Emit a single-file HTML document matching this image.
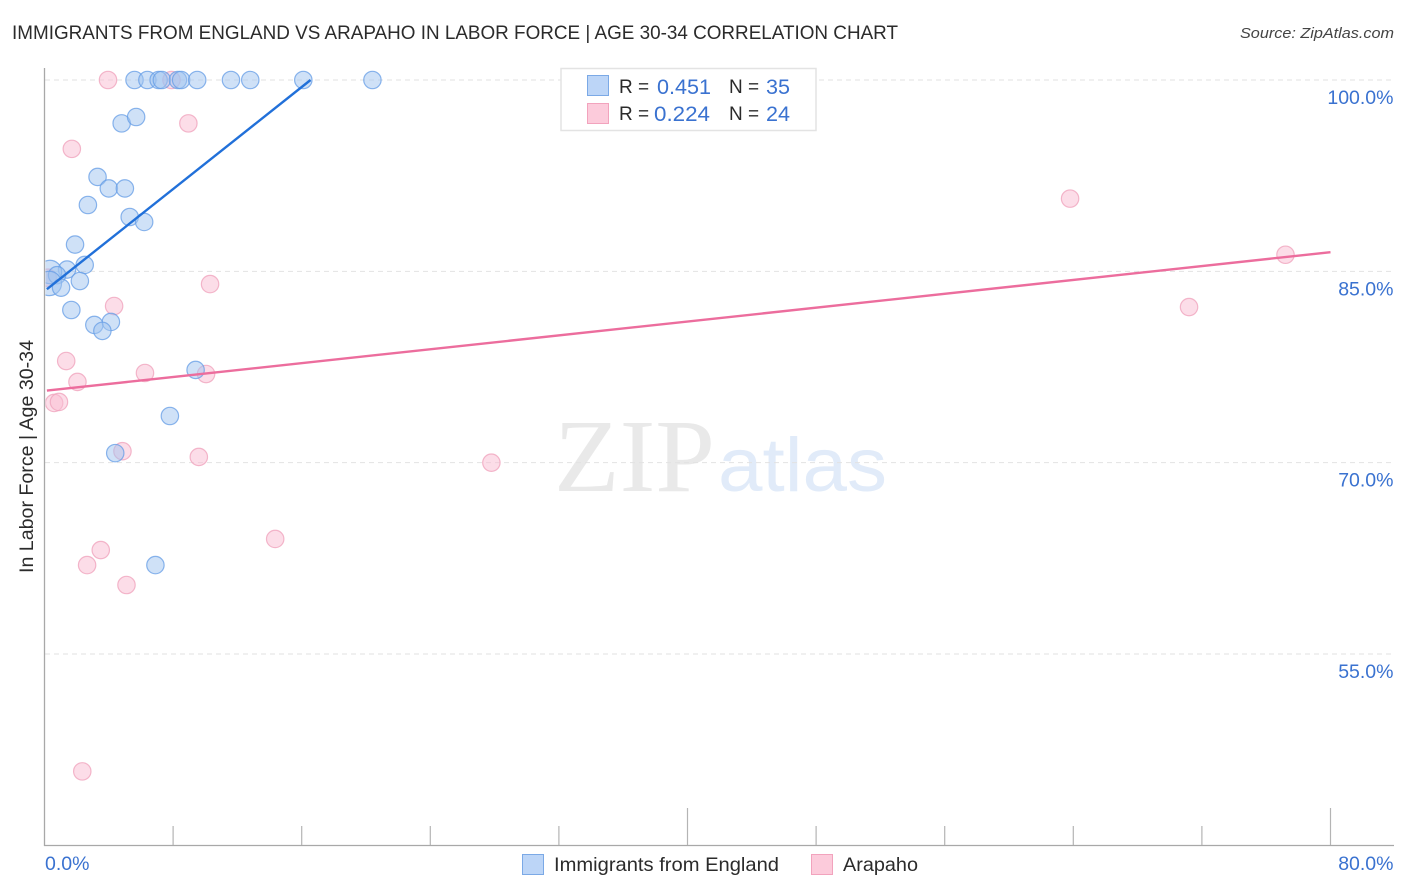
<!DOCTYPE html>
<html lang="en">
<head>
<meta charset="utf-8">
<title>Immigrants from England vs Arapaho in Labor Force | Age 30-34 Correlation Chart</title>
<style>
html,body{margin:0;padding:0;background:#fff;}
svg{display:block;font-family:"Liberation Sans",sans-serif;}
</style>
</head>
<body>
<svg id="chart" width="1406" height="892" viewBox="0 0 1406 892" xmlns="http://www.w3.org/2000/svg">
  <defs>
    <clipPath id="plot-clip"><rect x="45.500" y="60" width="1350" height="785"/></clipPath>
  </defs>
  <text x="12" y="39" font-size="19" fill="#2b2b2b" textLength="886" lengthAdjust="spacingAndGlyphs">IMMIGRANTS FROM ENGLAND VS ARAPAHO IN LABOR FORCE | AGE 30-34 CORRELATION CHART</text>
  <text x="1394" y="38" font-size="15" font-style="italic" fill="#444" text-anchor="end" textLength="154" lengthAdjust="spacingAndGlyphs">Source: ZipAtlas.com</text>

  <g>
    <text x="554" y="491" font-family="'Liberation Serif',serif" font-size="104" fill="#e9e9e9" textLength="161" lengthAdjust="spacingAndGlyphs">ZIP</text>
    <text x="718" y="491" font-size="76" fill="#e1ebf9" textLength="169" lengthAdjust="spacingAndGlyphs">atlas</text>
  </g>

  <g id="grid"></g>
  <g id="axes"></g>
  <g id="ylabels"></g>
  <g id="xlabels"></g>
  <text transform="translate(33,573) rotate(-90)" font-size="19" fill="#2b2b2b" textLength="233" lengthAdjust="spacingAndGlyphs">In Labor Force | Age 30-34</text>

  <g id="marks-arapaho" clip-path="url(#plot-clip)"></g>
  <g id="marks-england" clip-path="url(#plot-clip)"></g>
  <g id="trends"></g>

  <g>
    <rect x="561" y="68.500" width="255" height="62" fill="#fff" stroke="#e3e3e3" stroke-width="1.500"/>
    <rect x="587.500" y="75.500" width="21" height="20" fill="#bcd5f7" stroke="#7ba9e6" stroke-width="1"/>
    <rect x="587.500" y="103.500" width="21" height="20" fill="#fccbdb" stroke="#f2a3bd" stroke-width="1"/>
    <text x="619" y="93" font-size="19" fill="#2b2b2b">R =</text>
    <text x="657" y="94" font-size="21" fill="#3a72d0" textLength="54" lengthAdjust="spacingAndGlyphs">0.451</text>
    <text x="729" y="93" font-size="19" fill="#2b2b2b">N =</text>
    <text x="766" y="94" font-size="21" fill="#3a72d0" textLength="24" lengthAdjust="spacingAndGlyphs">35</text>
    <text x="619" y="120" font-size="19" fill="#2b2b2b">R =</text>
    <text x="654" y="121" font-size="21" fill="#3a72d0" textLength="56" lengthAdjust="spacingAndGlyphs">0.224</text>
    <text x="729" y="120" font-size="19" fill="#2b2b2b">N =</text>
    <text x="766" y="121" font-size="21" fill="#3a72d0" textLength="24" lengthAdjust="spacingAndGlyphs">24</text>
  </g>

  <g>
    <rect x="522.500" y="854.500" width="21" height="20" fill="#bcd5f7" stroke="#7ba9e6" stroke-width="1"/>
    <text x="554" y="871" font-size="19.500" fill="#2b2b2b" textLength="225" lengthAdjust="spacingAndGlyphs">Immigrants from England</text>
    <rect x="811.500" y="854.500" width="21" height="20" fill="#fccbdb" stroke="#f2a3bd" stroke-width="1"/>
    <text x="843" y="871" font-size="19.500" fill="#2b2b2b" textLength="75" lengthAdjust="spacingAndGlyphs">Arapaho</text>
  </g>
</svg>

<script>
// ---- chart data ----
const yTicks = [100, 85, 70, 55];
const yTickLabels = ['100.0%', '85.0%', '70.0%', '55.0%'];
const xTicks = [0, 8, 16, 24, 32, 40, 48, 56, 64, 72, 80];
const xMajorTicks = [40, 80];
const xEndLabels = ['0.0%', '80.0%'];
const xEndValues = [0, 80];

const englandX = [5.6, 6.4, 7.1, 7.3, 8.3, 8.5, 9.5, 11.6, 12.8, 16.1, 20.4,
  4.8, 5.7, 3.3, 4.0, 5.0, 2.7, 5.3, 6.2, 1.9,
  2.5, 1.4, 0.34, 0.78, 0.3, 2.2, 1.03, 1.67, 3.1, 4.13, 3.6, 9.4, 7.8, 4.4, 6.9];
const englandY = [100, 100, 100, 100, 100, 100, 100, 100, 100, 100, 100,
  96.6, 97.1, 92.4, 91.5, 91.5, 90.2, 89.26, 88.87, 87.1,
  85.5, 85.14, 84.95, 84.7, 84.05, 84.24, 83.72, 81.97, 80.8, 81.03, 80.33, 77.27, 73.66, 70.75, 61.97];
const englandWeight = [1, 1, 1, 1, 1, 1, 1, 1, 1, 1, 1,
  1, 1, 1, 1, 1, 1, 1, 1, 1,
  1, 1, 1.35, 1, 1.4, 1, 1, 1, 1, 1, 1, 1, 1, 1, 1];

const arapahoX = [3.95, 7.9, 8.95, 1.7, 63.8, 77.2, 71.2, 4.33, 10.3, 1.35, 2.05, 6.25, 10.05, 0.6, 0.9, 4.85, 9.6, 27.8, 14.35, 3.5, 2.65, 5.1, 2.35, 0.2];
const arapahoY = [100, 100, 96.6, 94.6, 90.7, 86.3, 82.2, 82.28, 84.0, 77.97, 76.33, 77.03, 76.95, 74.68, 74.76, 70.9, 70.45, 70.0, 64.02, 63.15, 61.97, 60.41, 45.8, 84.5];

const englandTrendX = [0.15, 16.55];
const englandTrendY = [83.6, 100];
const arapahoTrendX = [0.15, 80];
const arapahoTrendY = [75.65, 86.5];

// ---- axis functions ----
const xScale = function (v) { return 44.5 + v * 16.075; };
const yScale = function (v) { return 80 + (100 - v) * 12.756; };

const NS = 'http://www.w3.org/2000/svg';
function make(tag, attrs, parent) {
  const el = document.createElementNS(NS, tag);
  for (const k in attrs) el.setAttribute(k, attrs[k]);
  parent.appendChild(el);
  return el;
}

const grid = document.getElementById('grid');
const axes = document.getElementById('axes');
const ylabels = document.getElementById('ylabels');
const xlabels = document.getElementById('xlabels');

yTicks.forEach(function (t, i) {
  const line = make('line', {x1: 45, x2: 1394, y1: yScale(t), y2: yScale(t), stroke: '#e2e2e2', 'stroke-width': 1, 'stroke-dasharray': '5 4'}, grid);
  
  
  const label = make('text', {x: 1393.5, y: yScale(t) + 24, 'font-size': 19.5, fill: '#3a72d0', 'text-anchor': 'end'}, ylabels);
  label.textContent = yTickLabels[i];
  
  
});

const yAxis = make('line', {x1: 44.5, x2: 44.5, y1: 68, y2: 846, stroke: '#a8a8a8', 'stroke-width': 1.3}, axes);


const xAxis = make('line', {x1: 44, x2: 1394, y1: 845.5, y2: 845.5, stroke: '#a8a8a8', 'stroke-width': 1.3}, axes);



xTicks.forEach(function (t) {
  if (t === 0) return;
  const top = xMajorTicks.indexOf(t) >= 0 ? 808 : 826;
  const tick = make('line', {x1: xScale(t), x2: xScale(t), y1: top, y2: 845, stroke: '#b4b4b4', 'stroke-width': 1.2}, axes);
  
  
});

xEndLabels.forEach(function (txt, i) {
  const isLast = i === xEndLabels.length - 1;
  const label = make('text', {x: isLast ? 1393.5 : xScale(xEndValues[i]) + 0.5, y: 870, 'font-size': 19.5, fill: '#3a72d0', 'text-anchor': isLast ? 'end' : 'start'}, xlabels);
  label.textContent = txt;
  
  
});

const englandGroup = document.getElementById('marks-england');
englandX.forEach(function (x, i) {
  const c = make('circle', {cx: xScale(x), cy: yScale(englandY[i]), r: 8.7 * englandWeight[i], fill: 'rgba(160,196,240,0.5)', stroke: 'rgba(100,156,230,0.75)', 'stroke-width': 1.2}, englandGroup);
  
  
});

const arapahoGroup = document.getElementById('marks-arapaho');
arapahoX.forEach(function (x, i) {
  const c = make('circle', {cx: xScale(x), cy: yScale(arapahoY[i]), r: 8.7, fill: 'rgba(250,190,210,0.52)', stroke: 'rgba(240,165,190,0.8)', 'stroke-width': 1.2}, arapahoGroup);
  
  
});

const trends = document.getElementById('trends');
const englandTrend = make('line', {x1: xScale(englandTrendX[0]), y1: yScale(englandTrendY[0]), x2: xScale(englandTrendX[1]), y2: yScale(englandTrendY[1]), stroke: '#2170d9', 'stroke-width': 2.4}, trends);


const arapahoTrend = make('line', {x1: xScale(arapahoTrendX[0]), y1: yScale(arapahoTrendY[0]), x2: xScale(arapahoTrendX[1]), y2: yScale(arapahoTrendY[1]), stroke: '#ec6d9d', 'stroke-width': 2.4}, trends);


</script>
</body>
</html>
